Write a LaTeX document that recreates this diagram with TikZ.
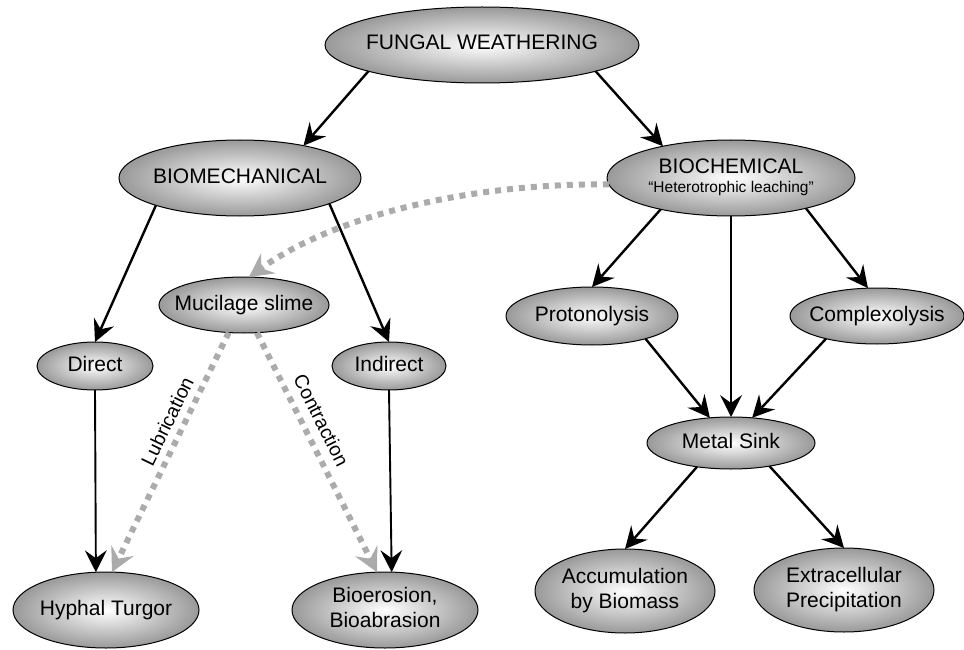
\documentclass[tikz,border=0pt]{standalone}
\usepackage{fontspec}
\setmainfont{Liberation Sans}
\usetikzlibrary{shapes.geometric,arrows.meta}
\newcommand\ctext[1]{\makebox[0pt]{\begin{tabular}{@{}c@{}}#1\end{tabular}}}
\begin{document}
\begin{tikzpicture}[x=1pt,y=-1pt,
  el/.style={ellipse, draw=black, line width=1pt, inner sep=0pt, outer sep=0pt,
    shading=radial, inner color=white, outer color=black!40,
    font=\fontsize{21}{25}\selectfont},
  arr/.style={-{Stealth[length=22pt,width=22pt,inset=8pt,line width=0pt]}, line width=2.4pt},
  varr/.style={arr, line width=1.9pt},
  dots/.style={draw=black!33, line width=6pt, dash pattern=on 6pt off 6pt,
    -{Stealth[length=24pt,width=25pt,inset=9pt,line width=0pt]}},
  lab/.style={font=\fontsize{19.5}{22}\selectfont, sloped, pos=0.4}]
\useasboundingbox (0,0) rectangle (964,650);

\node[el, minimum width=314pt, minimum height=76pt] (fw) at (482,45) {\ctext{FUNGAL WEATHERING}};
\node[el, minimum width=242pt, minimum height=76pt] (bm) at (240,178) {\ctext{BIOMECHANICAL}};
\node[el, minimum width=248pt, minimum height=76pt] (bc) at (731,178) {\ctext{BIOCHEMICAL\\[-5pt]{\fontsize{15.5}{18}\selectfont “Heterotrophic leaching”}}};
\node[el, minimum width=170pt, minimum height=56pt] (ms) at (244,305) {\ctext{Mucilage slime}};
\node[el, minimum width=116pt, minimum height=48pt] (di) at (95,366) {\ctext{Direct}};
\node[el, minimum width=114pt, minimum height=48pt] (ind) at (389,366) {\ctext{Indirect}};
\node[el, minimum width=172pt, minimum height=58pt] (pr) at (592,316) {\ctext{Protonolysis}};
\node[el, minimum width=174pt, minimum height=56pt] (co) at (877,316) {\ctext{Complexolysis}};
\node[el, minimum width=168pt, minimum height=52pt] (sk) at (731,443) {\ctext{Metal Sink}};
\node[el, minimum width=186pt, minimum height=76pt] (ht) at (106,610) {\ctext{Hyphal Turgor}};
\node[el, minimum width=186pt, minimum height=76pt] (be) at (385,610) {\ctext{Bioerosion,\\Bioabrasion}};
\node[el, minimum width=180pt, minimum height=84pt] (ac) at (625,591) {\ctext{Accumulation\\by Biomass}};
\node[el, minimum width=180pt, minimum height=84pt] (ex) at (844,590) {\ctext{Extracellular\\Precipitation}};

% dotted connectors
\draw[dots] (bc.183) .. controls (480,183) and (340,212) .. (ms.80);
\draw[dots] (ms.241.8) -- node[lab, above=3pt]{Lubrication} (ht.81);
\draw[dots] (ms.-65) -- node[lab, above=5pt]{Contraction} (be.102);

% solid connectors
\draw[arr] (fw.193.5) -- (bm.27.6);
\draw[arr] (fw.-13.5) -- (bc.155);
\draw[arr] (bm.-162.8) -- (di.north);
\draw[arr] (bm.-16.7) -- (ind.north);
\draw[varr] (di.south) -- (ht.105);
\draw[varr] (ind.south) -- (be.80);
\draw[arr] (bc.-156.6) -- (pr.north);
\draw[varr] (bc) -- (sk);
\draw[arr] (bc.-22.8) -- (co.108);
\draw[arr] (pr.-23.6) -- (sk.130);
\draw[arr] (co.-156.4) -- (sk.50);
\draw[arr] (sk.-145) -- (ac.north);
\draw[arr] (sk.-31.4) -- (ex.north);
\end{tikzpicture}
\end{document}
